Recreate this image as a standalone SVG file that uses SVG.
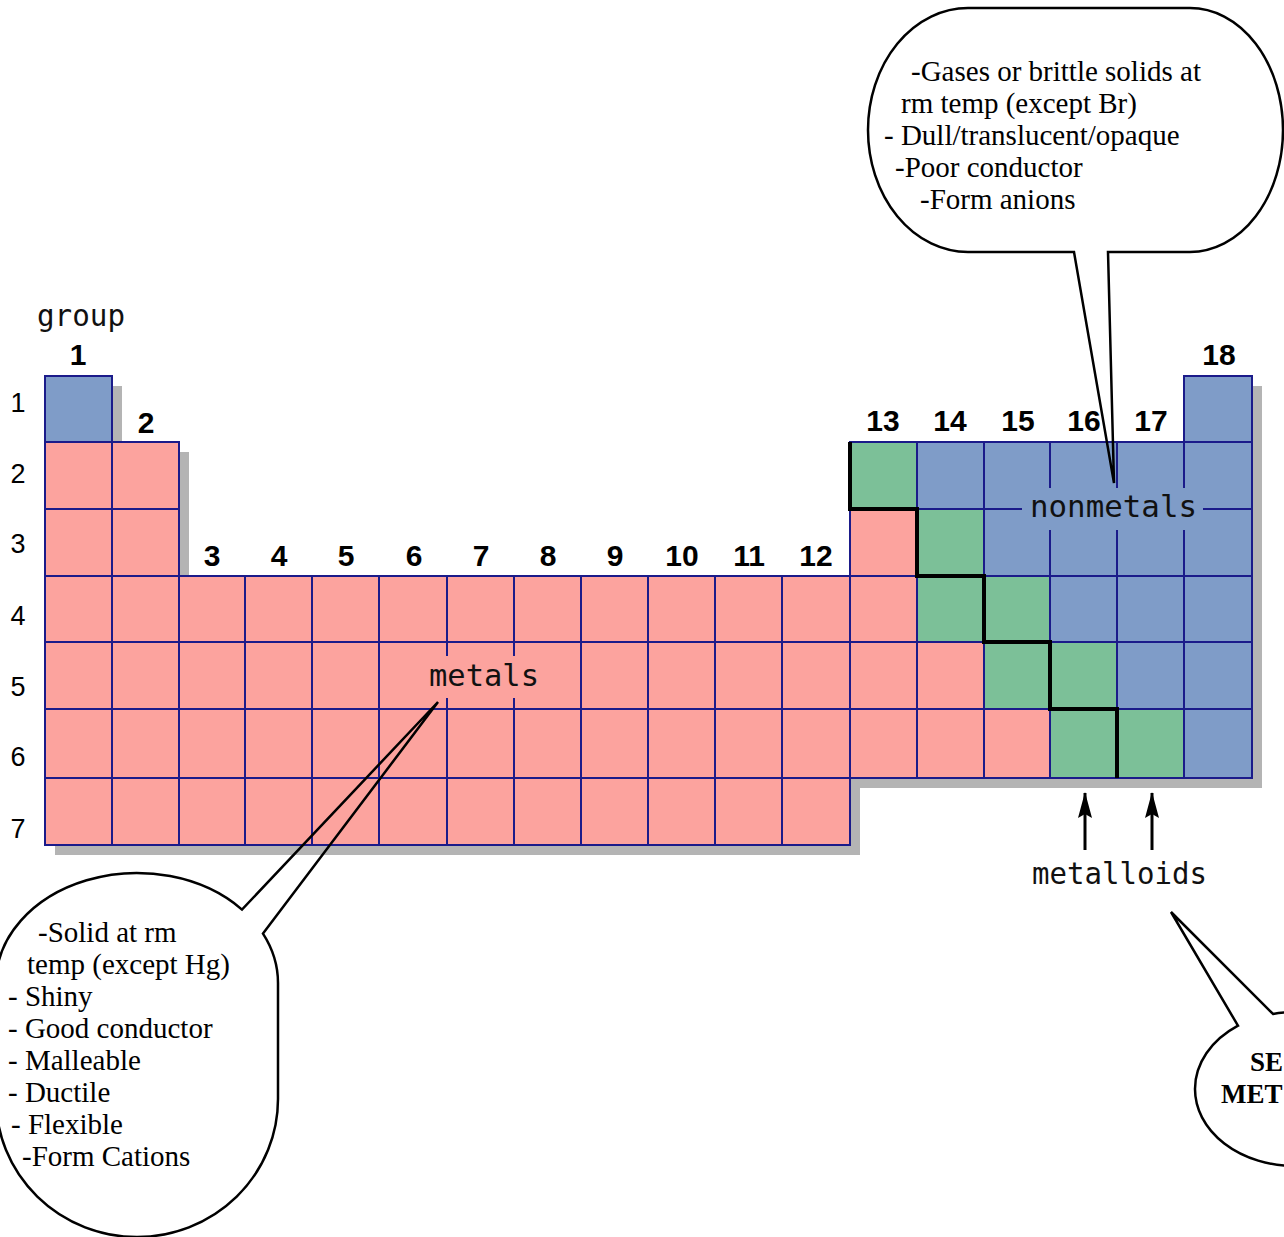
<svg xmlns="http://www.w3.org/2000/svg" width="1284" height="1237" viewBox="0 0 1284 1237">
<defs>
<style>
.m{fill:#FCA39E;stroke:#1B1B8A;stroke-width:2}
.n{fill:#7F9CC8;stroke:#1B1B8A;stroke-width:2}
.g{fill:#7CC098;stroke:#1B1B8A;stroke-width:2}
.num{font-family:"Liberation Sans",Arial,sans-serif;font-weight:bold;font-size:30px;text-anchor:middle;fill:#000}
.row{font-family:"Liberation Sans",Arial,sans-serif;font-size:27px;text-anchor:middle;fill:#000}
.pix{font-family:"DejaVu Sans Mono",monospace;font-size:31px;fill:#111}
.note{font-family:"Liberation Serif","Times New Roman",serif;font-size:29px;fill:#000}
.bold{font-family:"Liberation Serif","Times New Roman",serif;font-size:27px;font-weight:bold;fill:#000}
.bub{fill:none;stroke:#000;stroke-width:2.5;stroke-linejoin:miter}
.stair{fill:none;stroke:#000;stroke-width:4}
.arrow{stroke:#000;stroke-width:3;fill:none}
</style>
<marker id="ah" viewBox="0 0 26 16" refX="25" refY="8" markerWidth="26" markerHeight="16" orient="auto" markerUnits="userSpaceOnUse">
<path d="M0,1 L26,8 L0,15 L4,8 Z" fill="#000"/>
</marker>
</defs>
<rect width="1284" height="1237" fill="#fff"/>

<g id="table">
<polygon id="shadow" fill="#B4B4B4" transform="translate(10,10)" points="45,376 112,376 112,442 179,442 179,576 850,576 850,442 1184,442 1184,376 1252,376 1252,778 850,778 850,845 45,845"/>
<g id="row1">
<rect class="n" x="45" y="376" width="67" height="66"/>
<rect class="n" x="1184" y="376" width="68" height="66"/>
</g>
<g id="row2">
<rect class="m" x="45" y="442" width="67" height="67"/>
<rect class="m" x="112" y="442" width="67" height="67"/>
<rect class="g" x="850" y="442" width="67" height="67"/>
<rect class="n" x="917" y="442" width="67" height="67"/>
<rect class="n" x="984" y="442" width="66" height="67"/>
<rect class="n" x="1050" y="442" width="67" height="67"/>
<rect class="n" x="1117" y="442" width="67" height="67"/>
<rect class="n" x="1184" y="442" width="68" height="67"/>
</g>
<g id="row3">
<rect class="m" x="45" y="509" width="67" height="67"/>
<rect class="m" x="112" y="509" width="67" height="67"/>
<rect class="m" x="850" y="509" width="67" height="67"/>
<rect class="g" x="917" y="509" width="67" height="67"/>
<rect class="n" x="984" y="509" width="66" height="67"/>
<rect class="n" x="1050" y="509" width="67" height="67"/>
<rect class="n" x="1117" y="509" width="67" height="67"/>
<rect class="n" x="1184" y="509" width="68" height="67"/>
</g>
<g id="row4">
<rect class="m" x="45" y="576" width="67" height="66"/>
<rect class="m" x="112" y="576" width="67" height="66"/>
<rect class="m" x="179" y="576" width="66" height="66"/>
<rect class="m" x="245" y="576" width="67" height="66"/>
<rect class="m" x="312" y="576" width="67" height="66"/>
<rect class="m" x="379" y="576" width="68" height="66"/>
<rect class="m" x="447" y="576" width="67" height="66"/>
<rect class="m" x="514" y="576" width="67" height="66"/>
<rect class="m" x="581" y="576" width="67" height="66"/>
<rect class="m" x="648" y="576" width="67" height="66"/>
<rect class="m" x="715" y="576" width="67" height="66"/>
<rect class="m" x="782" y="576" width="68" height="66"/>
<rect class="m" x="850" y="576" width="67" height="66"/>
<rect class="g" x="917" y="576" width="67" height="66"/>
<rect class="g" x="984" y="576" width="66" height="66"/>
<rect class="n" x="1050" y="576" width="67" height="66"/>
<rect class="n" x="1117" y="576" width="67" height="66"/>
<rect class="n" x="1184" y="576" width="68" height="66"/>
</g>
<g id="row5">
<rect class="m" x="45" y="642" width="67" height="67"/>
<rect class="m" x="112" y="642" width="67" height="67"/>
<rect class="m" x="179" y="642" width="66" height="67"/>
<rect class="m" x="245" y="642" width="67" height="67"/>
<rect class="m" x="312" y="642" width="67" height="67"/>
<rect class="m" x="379" y="642" width="68" height="67"/>
<rect class="m" x="447" y="642" width="67" height="67"/>
<rect class="m" x="514" y="642" width="67" height="67"/>
<rect class="m" x="581" y="642" width="67" height="67"/>
<rect class="m" x="648" y="642" width="67" height="67"/>
<rect class="m" x="715" y="642" width="67" height="67"/>
<rect class="m" x="782" y="642" width="68" height="67"/>
<rect class="m" x="850" y="642" width="67" height="67"/>
<rect class="m" x="917" y="642" width="67" height="67"/>
<rect class="g" x="984" y="642" width="66" height="67"/>
<rect class="g" x="1050" y="642" width="67" height="67"/>
<rect class="n" x="1117" y="642" width="67" height="67"/>
<rect class="n" x="1184" y="642" width="68" height="67"/>
</g>
<g id="row6">
<rect class="m" x="45" y="709" width="67" height="69"/>
<rect class="m" x="112" y="709" width="67" height="69"/>
<rect class="m" x="179" y="709" width="66" height="69"/>
<rect class="m" x="245" y="709" width="67" height="69"/>
<rect class="m" x="312" y="709" width="67" height="69"/>
<rect class="m" x="379" y="709" width="68" height="69"/>
<rect class="m" x="447" y="709" width="67" height="69"/>
<rect class="m" x="514" y="709" width="67" height="69"/>
<rect class="m" x="581" y="709" width="67" height="69"/>
<rect class="m" x="648" y="709" width="67" height="69"/>
<rect class="m" x="715" y="709" width="67" height="69"/>
<rect class="m" x="782" y="709" width="68" height="69"/>
<rect class="m" x="850" y="709" width="67" height="69"/>
<rect class="m" x="917" y="709" width="67" height="69"/>
<rect class="m" x="984" y="709" width="66" height="69"/>
<rect class="g" x="1050" y="709" width="67" height="69"/>
<rect class="g" x="1117" y="709" width="67" height="69"/>
<rect class="n" x="1184" y="709" width="68" height="69"/>
</g>
<g id="row7">
<rect class="m" x="45" y="778" width="67" height="67"/>
<rect class="m" x="112" y="778" width="67" height="67"/>
<rect class="m" x="179" y="778" width="66" height="67"/>
<rect class="m" x="245" y="778" width="67" height="67"/>
<rect class="m" x="312" y="778" width="67" height="67"/>
<rect class="m" x="379" y="778" width="68" height="67"/>
<rect class="m" x="447" y="778" width="67" height="67"/>
<rect class="m" x="514" y="778" width="67" height="67"/>
<rect class="m" x="581" y="778" width="67" height="67"/>
<rect class="m" x="648" y="778" width="67" height="67"/>
<rect class="m" x="715" y="778" width="67" height="67"/>
<rect class="m" x="782" y="778" width="68" height="67"/>
</g>
<rect x="426" y="656" width="118" height="42" fill="#FCA39E"/>
<rect x="1022" y="488" width="181" height="42" fill="#7F9CC8"/>
<path class="stair" d="M850,442 L850,509 L917,509 L917,576 L984,576 L984,642 L1050,642 L1050,709 L1117,709 L1117,778"/>
</g>

<g id="labels">
<text class="pix" x="37" y="326" textLength="88" lengthAdjust="spacingAndGlyphs">group</text>
<text class="pix" x="429" y="686" textLength="110" lengthAdjust="spacingAndGlyphs">metals</text>
<text class="pix" x="1030" y="517" textLength="167" lengthAdjust="spacingAndGlyphs">nonmetals</text>
<text class="pix" x="1032" y="884" textLength="175" lengthAdjust="spacingAndGlyphs">metalloids</text>
<text class="num" x="78" y="365">1</text>
<text class="num" x="146" y="433">2</text>
<text class="num" x="212" y="566">3</text>
<text class="num" x="279" y="566">4</text>
<text class="num" x="346" y="566">5</text>
<text class="num" x="414" y="566">6</text>
<text class="num" x="481" y="566">7</text>
<text class="num" x="548" y="566">8</text>
<text class="num" x="615" y="566">9</text>
<text class="num" x="682" y="566">10</text>
<text class="num" x="749" y="566">11</text>
<text class="num" x="816" y="566">12</text>
<text class="num" x="883" y="431">13</text>
<text class="num" x="950" y="431">14</text>
<text class="num" x="1018" y="431">15</text>
<text class="num" x="1084" y="431">16</text>
<text class="num" x="1151" y="431">17</text>
<text class="num" x="1219" y="365">18</text>
<text class="row" x="18" y="412">1</text>
<text class="row" x="18" y="483">2</text>
<text class="row" x="18" y="553">3</text>
<text class="row" x="18" y="625">4</text>
<text class="row" x="18" y="696">5</text>
<text class="row" x="18" y="766">6</text>
<text class="row" x="18" y="838">7</text>
</g>

<g id="nonmetal-callout">
<path class="bub" d="M1074,252 L968,252 A100,122 0 0 1 868,130 A100,122 0 0 1 968,8 L1190,8 A93,122 0 0 1 1283,130 A93,122 0 0 1 1190,252 L1108,252 L1114,483 Z"/>
<text class="note" x="911" y="81">-Gases or brittle solids at</text>
<text class="note" x="901" y="113">rm temp (except Br)</text>
<text class="note" x="884" y="145">- Dull/translucent/opaque</text>
<text class="note" x="895" y="177">-Poor conductor</text>
<text class="note" x="920" y="209">-Form anions</text>
</g>

<g id="metal-callout">
<path class="bub" d="M263,933.6 L438,702 L242,909.6 A141,110 0 0 0 -4,983 L-4,1099 A141,138 0 0 0 137,1237 A141,138 0 0 0 278,1099 L278,983 A141,110 0 0 0 263,933.6 Z"/>
<text class="note" x="38" y="942">-Solid at rm</text>
<text class="note" x="27" y="974">temp (except Hg)</text>
<text class="note" x="8" y="1006">- Shiny</text>
<text class="note" x="8" y="1038">- Good conductor</text>
<text class="note" x="8" y="1070">- Malleable</text>
<text class="note" x="8" y="1102">- Ductile</text>
<text class="note" x="11" y="1134">- Flexible</text>
<text class="note" x="22" y="1166">-Form Cations</text>
</g>

<g id="metalloid-callout">
<path class="bub" d="M1273,1013.9 L1171,912 L1238,1025.7 A100,77 0 0 0 1195,1089 A100,77 0 0 0 1295,1166 A100,77 0 0 0 1395,1089 A100,77 0 0 0 1273,1013.9 Z"/>
<text class="bold" x="1250" y="1071">SE</text>
<text class="bold" x="1221" y="1103">MET</text>
</g>

<g id="connectors">
<line class="arrow" x1="1085" y1="850" x2="1085" y2="793" marker-end="url(#ah)"/>
<line class="arrow" x1="1152" y1="850" x2="1152" y2="793" marker-end="url(#ah)"/>
</g>
</svg>
